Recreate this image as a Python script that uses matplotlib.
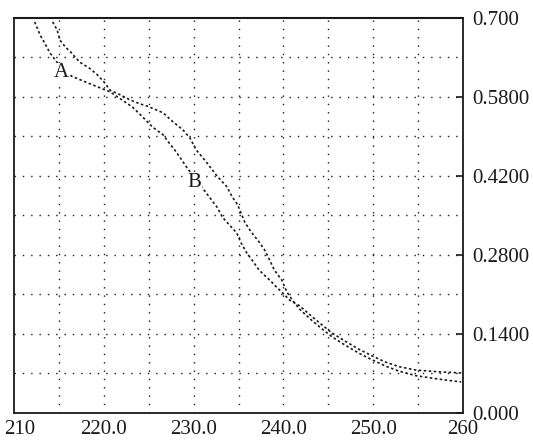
import matplotlib
matplotlib.use('Agg')
import matplotlib.pyplot as plt
import matplotlib.transforms as mtransforms

plt.rcParams['font.family'] = ['Liberation Serif', 'DejaVu Serif']

# curve A (starts left at the top, ends as the upper curve)
a_x = [212.3, 212.9, 213.4, 214.0, 215.1, 216.4, 217.9, 219.3, 220.7, 222.0,
       223.2, 224.3, 225.4, 226.6, 227.3, 227.9, 228.7, 229.2, 230.3, 231.4,
       232.6, 233.2, 234.0, 234.8, 235.3, 235.9, 236.6, 237.3, 238.1, 238.7,
       239.3, 239.9, 240.7, 241.8, 243.1, 244.3, 245.4, 246.8, 248.4, 249.9,
       251.4, 252.9, 254.8, 257.3, 259.8]
a_y = [0.693, 0.670, 0.656, 0.638, 0.615, 0.597, 0.587, 0.578, 0.569, 0.555,
       0.542, 0.525, 0.507, 0.493, 0.478, 0.466, 0.448, 0.436, 0.413, 0.390,
       0.365, 0.347, 0.333, 0.319, 0.301, 0.284, 0.269, 0.253, 0.241, 0.232,
       0.222, 0.213, 0.200, 0.190, 0.172, 0.156, 0.142, 0.128, 0.113, 0.101,
       0.090, 0.082, 0.076, 0.073, 0.071]

# curve B (starts right at the top, ends as the lower curve)
b_x = [214.3, 214.8, 215.1, 215.7, 216.4, 217.3, 218.4, 219.3, 220.1, 220.7,
       221.8, 222.9, 224.0, 224.8, 226.6, 227.7, 228.8, 229.6, 230.3, 231.4,
       232.6, 233.7, 234.3, 234.9, 235.7, 236.4, 237.3, 237.9, 238.4, 239.0,
       239.8, 240.4, 241.0, 241.8, 243.1, 244.3, 245.4, 246.8, 248.4, 249.9,
       251.4, 252.9, 254.8, 257.3, 259.8]
b_y = [0.693, 0.679, 0.661, 0.649, 0.638, 0.622, 0.611, 0.599, 0.585, 0.572,
       0.564, 0.555, 0.548, 0.544, 0.532, 0.516, 0.502, 0.487, 0.466, 0.445,
       0.420, 0.401, 0.383, 0.369, 0.338, 0.321, 0.303, 0.289, 0.273, 0.253,
       0.236, 0.214, 0.200, 0.184, 0.165, 0.149, 0.135, 0.121, 0.106, 0.094,
       0.083, 0.074, 0.066, 0.060, 0.055]

x_ticks = [210, 220, 230, 240, 250, 260]
x_labels = ['210', '220.0', '230.0', '240.0', '250.0', '260']
y_ticks = [0.0, 0.14, 0.28, 0.42, 0.56, 0.70]
y_labels = ['0.000', '0.1400', '0.2800', '0.4200', '0.5800', '0.700']
x_grid = [215, 220, 225, 230, 235, 240, 245, 250, 255]
y_grid = [0.07, 0.14, 0.21, 0.28, 0.35, 0.42, 0.49, 0.56, 0.63]

ink = '#1a1a1a'

fig = plt.figure(figsize=(5.33, 4.41), dpi=100)
ax = fig.add_axes([0.0263, 0.0635, 0.8424, 0.8957])

for gx in x_grid:
    ax.axvline(gx, color=ink, lw=1.0, ls=(0, (1, 5)), zorder=1)
for gy in y_grid:
    ax.axhline(gy, color=ink, lw=1.0, ls=(0, (1, 5)), zorder=1)

ax.plot(a_x, a_y, color=ink, lw=1.2, ls=(0, (1.5, 1.5)), zorder=3)
ax.plot(b_x, b_y, color=ink, lw=1.2, ls=(0, (1.5, 1.5)), zorder=3)

label_box = dict(facecolor='white', edgecolor='none', pad=0.5)
ax.text(215.3, 0.603, 'A', fontsize=15, ha='center', va='center', color=ink,
        bbox=label_box, zorder=4)
ax.text(230.1, 0.408, 'B', fontsize=15, ha='center', va='center', color=ink,
        bbox=label_box, zorder=4)

ax.set_xlim(210, 260)
ax.set_ylim(0, 0.70)

ax.set_xticks(x_ticks)
ax.set_xticklabels(x_labels, fontsize=15, color=ink)
ax.yaxis.tick_right()
ax.set_yticks(y_ticks)
ax.set_yticklabels(y_labels, fontsize=15, color=ink)
ax.tick_params(axis='x', length=0, pad=5)
ax.tick_params(axis='y', direction='in', length=5, width=1.2, color=ink, pad=7)

# first x label sits a little right of its tick
offset = mtransforms.ScaledTranslation(6 / 100, 0, fig.dpi_scale_trans)
first = ax.get_xticklabels()[0]
first.set_transform(first.get_transform() + offset)

for side in ['left', 'right', 'bottom']:
    ax.spines[side].set_linestyle((0, (1, 1)))
    ax.spines[side].set_linewidth(1.3)
    ax.spines[side].set_color(ink)
ax.spines['top'].set_linewidth(1.5)
ax.spines['top'].set_color(ink)

plt.savefig('out.png', dpi=100)
plt.close()
